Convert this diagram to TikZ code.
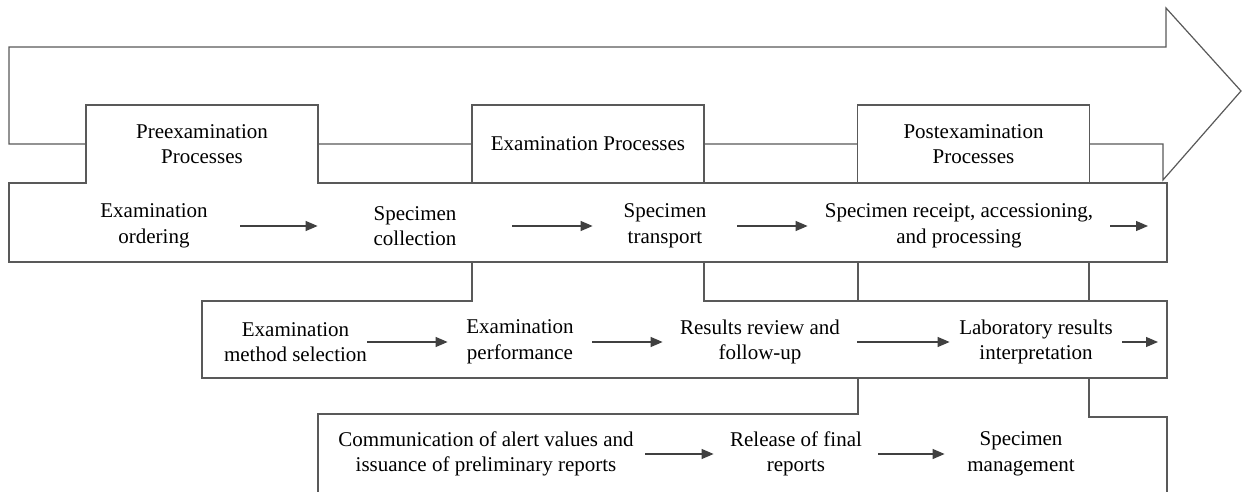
\documentclass[tikz,border=0pt]{standalone}
\usepackage{fontspec}
\setmainfont{Liberation Serif}
\usetikzlibrary{arrows.meta}

\begin{document}
\begin{tikzpicture}[x=0.5pt, y=-0.5pt,
    every node/.style={font=\fontsize{10.5}{12.75}\selectfont, align=center, inner sep=0pt},
    stage/.style={minimum width=#1},
    phase/.style={rectangle, draw=black!65, fill=white, line width=0.6pt, minimum width=116pt, minimum height=39pt},
    band/.style={draw=black!65, fill=white, line width=0.6pt},
    flow/.style={draw=black!75, line width=0.65pt, -{Triangle[length=6pt, width=5pt]}}
]
    \useasboundingbox (0,0) rectangle (1244,492);

    % big arrow behind everything
    \draw[band] (9,47) -- (1166,47) -- (1166,8) -- (1241,91) -- (1163,180) -- (1163,144) -- (9,144) -- cycle;

    % process headers
    \node[phase] (exam head) at (588,144) {Examination Processes};
    \node[phase] (post head) at (973.5,144) {Postexamination\\Processes};

    % first band, joined to the preexamination tab
    \draw[band] (9,183) -- (86,183) -- (86,105) -- (318,105) -- (318,183) -- (1167,183) -- (1167,262) -- (9,262) -- cycle;
    \node (pre head) at (202,144) {Preexamination\\Processes};

    % second band
    \draw[band] (858,262) rectangle (1089,301);
    \draw[band] (202,301) -- (472,301) -- (472,262) -- (704,262) -- (704,301) -- (1167,301) -- (1167,378) -- (202,378) -- cycle;

    % third band (cut off below)
    \draw[band, fill=none] (318,492) -- (318,414) -- (858,414) -- (858,378) -- (1089,378) -- (1089,417) -- (1167,417) -- (1167,492);

    % row 1
    \node[stage=86pt] (ordering) at (154,226) {Examination\\ordering};
    \node[stage=97pt] (collection) at (415,226) {Specimen\\collection};
    \node[stage=72pt] (transport) at (665,226) {Specimen\\transport};
    \node[stage=151pt] (processing) at (959,226) {Specimen receipt, accessioning,\\and processing};
    \coordinate (row1 end) at (1148,226);

    % row 2
    \node[stage=70pt] (method) at (295.5,342) {Examination\\method selection};
    \node[stage=72pt] (performance) at (520,342) {Examination\\performance};
    \node[stage=97pt] (followup) at (760,342) {Results review and\\follow-up};
    \node[stage=86pt] (interp) at (1036,342) {Laboratory results\\interpretation};
    \coordinate (row2 end) at (1158,342);

    % row 3
    \node[stage=159pt] (alert) at (486,454) {Communication of alert values and\\issuance of preliminary reports};
    \node[stage=82pt] (release) at (796,454) {Release of final\\reports};
    \node[stage=76pt] (specmgmt) at (1021,454) {Specimen\\management};

    \draw[flow] (ordering) -- (collection);
    \draw[flow] (collection) -- (transport);
    \draw[flow] (transport) -- (processing);
    \draw[flow] (processing) -- (row1 end);
    \draw[flow] (method) -- (performance);
    \draw[flow] (performance) -- (followup);
    \draw[flow] (followup) -- (interp);
    \draw[flow] (interp) -- (row2 end);
    \draw[flow] (alert) -- (release);
    \draw[flow] (release) -- (specmgmt);
\end{tikzpicture}
\end{document}
